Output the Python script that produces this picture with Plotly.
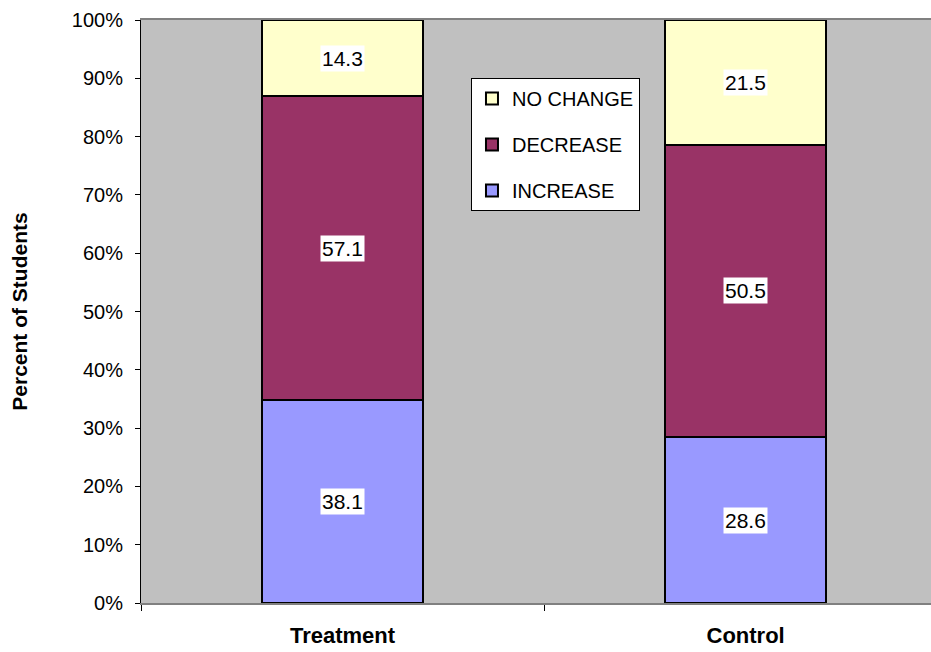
import plotly.graph_objects as go

# Student outcome shares per group (raw values shown on the bars)
groups = ["Treatment", "Control"]
increase = [38.1, 28.6]
decrease = [57.1, 50.5]
no_change = [14.3, 21.5]

series = [
    ("INCREASE", increase, "#9999FF"),
    ("DECREASE", decrease, "#993366"),
    ("NO CHANGE", no_change, "#FFFFCC"),
]

FONT = "Liberation Sans, Arial"

fig = go.Figure()
for i, (name, vals, color) in enumerate(series):
    fig.add_trace(go.Bar(
        x=groups, y=vals, name=name,
        marker=dict(color=color, line=dict(color="black", width=2)),
        width=0.4, legendgroup=name, legendrank=len(series) - i,
    ))

# Value labels centred in each normalised segment
totals = [sum(s[1][j] for s in series) for j in range(len(groups))]
for j, g in enumerate(groups):
    base = 0.0
    for name, vals, color in series:
        share = vals[j] / totals[j] * 100
        fig.add_annotation(
            x=g, y=base + share / 2, text=f"{vals[j]:.1f}", showarrow=False,
            bgcolor="white", borderpad=1,
            font=dict(family=FONT, size=21, color="black"),
        )
        base += share

fig.update_layout(
    width=931, height=652,
    margin=dict(l=141, r=0, t=20, b=49),
    barmode="stack", barnorm="percent",
    plot_bgcolor="#C0C0C0", paper_bgcolor="white",
    font=dict(family=FONT, color="black"),
    showlegend=True,
    legend=dict(
        x=0.4177, y=0.9005, xanchor="left", yanchor="top",
        bgcolor="white", bordercolor="black", borderwidth=1,
        traceorder="grouped", tracegroupgap=17,
        font=dict(size=20, color="black"),
    ),
    xaxis=dict(
        range=[-0.5, 1.46], showgrid=False, zeroline=False,
        showline=True, linecolor="#808080", linewidth=2, mirror=True,
        ticks="outside", tickson="boundaries", ticklen=6, tickcolor="black",
        tickfont=dict(size=22, family=FONT),
        ticklabelstandoff=12,
    ),
    yaxis=dict(
        range=[0, 100], dtick=10, ticksuffix="%", showgrid=False, zeroline=False,
        showline=True, linecolor="black", linewidth=1,
        ticks="outside", ticklen=5, tickcolor="black",
        tickfont=dict(size=20), ticklabelstandoff=8,
        title=dict(text="<b>Percent of Students</b>", font=dict(size=21), standoff=38),
    ),
)

# Bold category labels
fig.update_xaxes(ticktext=[f"<b>{g}</b>" for g in groups], tickvals=groups)

fig.write_html("out.html")
